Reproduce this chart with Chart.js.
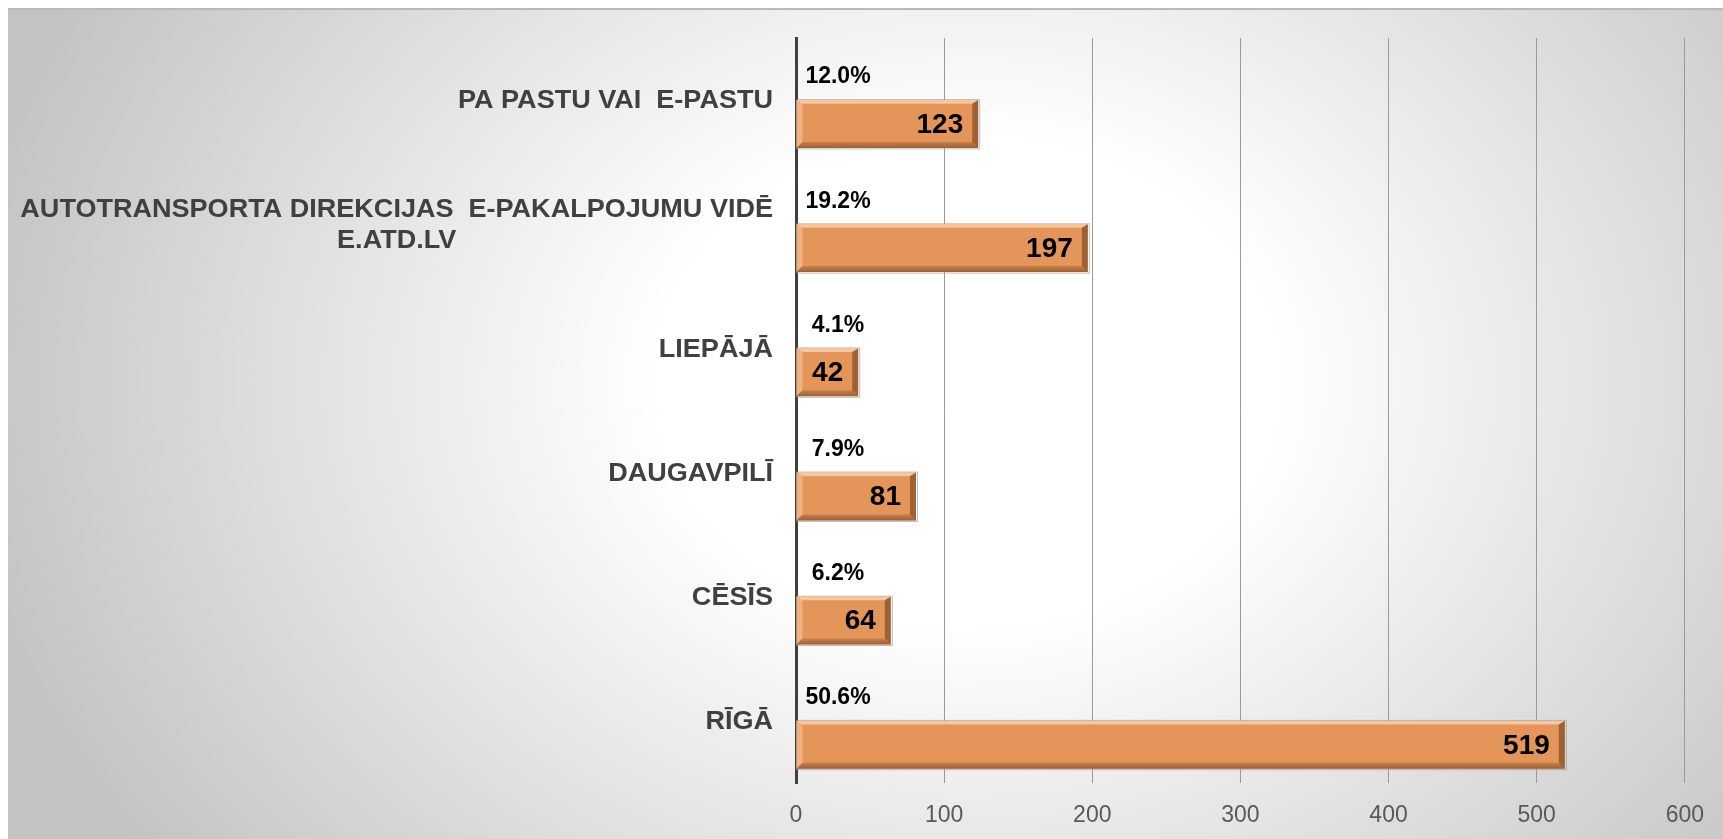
<!DOCTYPE html>
<html>
<head>
<meta charset="utf-8">
<script src="https://cdn.jsdelivr.net/npm/chart.js@4.4.0/dist/chart.umd.min.js"></script>
<style>
    html, body { margin: 0; padding: 0; background: #fff; overflow: hidden; }
    #frame {
        position: absolute; left: 8px; top: 8px; width: 1715px; height: 831px;
        box-sizing: border-box; border-top: 2px solid #b9b9b9;
        background: radial-gradient(ellipse 1020px 800px at 959px 372px, #ffffff 0%, #ffffff 30%, #c3c3c3 100%);
    }
    canvas { position: absolute; left: 0; top: 0; }
</style>
</head>
<body>
<div id="frame"></div>
<canvas id="chart" width="1723" height="839"></canvas>
<script>
// --- Data ---
const categories = [
    'PA PASTU VAI  E-PASTU',
    ['AUTOTRANSPORTA DIREKCIJAS  E-PAKALPOJUMU VIDĒ', 'E.ATD.LV'],
    'LIEPĀJĀ',
    'DAUGAVPILĪ',
    'CĒSĪS',
    'RĪGĀ'
];
const counts = [123, 197, 42, 81, 64, 519];
const percents = [12.0, 19.2, 4.1, 7.9, 6.2, 50.6];
const xTicks = [0, 100, 200, 300, 400, 500, 600];

const FONT = '"Liberation Sans", Arial, sans-serif';

// Bevelled look for the orange bars
const bevelPlugin = {
    id: 'bevel',
    afterDatasetDraw(chart, args) {
        if (args.index !== 1) return;
        const ctx = chart.ctx;
        const b = 6;
        args.meta.data.forEach(bar => {
            const p = bar.getProps(['x', 'y', 'base', 'height'], true);
            const l = p.base, r = p.x, t = p.y - p.height / 2, btm = p.y + p.height / 2;
            ctx.save();
            // soft outline
            ctx.strokeStyle = 'rgba(160,160,160,0.7)';
            ctx.lineWidth = 1;
            ctx.strokeRect(l + 0.5, t - 0.5, r - l + 1, btm - t + 1.5);
            // top highlight
            ctx.fillStyle = 'rgba(255,215,175,0.75)';
            ctx.beginPath();
            ctx.moveTo(l, t); ctx.lineTo(r, t); ctx.lineTo(r - b, t + b * 0.6); ctx.lineTo(l + b, t + b * 0.6);
            ctx.closePath(); ctx.fill();
            // left highlight
            ctx.fillStyle = 'rgba(255,210,170,0.45)';
            ctx.beginPath();
            ctx.moveTo(l, t); ctx.lineTo(l + b, t + b * 0.6); ctx.lineTo(l + b, btm - b); ctx.lineTo(l, btm);
            ctx.closePath(); ctx.fill();
            // bottom shade
            const g = ctx.createLinearGradient(0, btm - b - 2, 0, btm);
            g.addColorStop(0, 'rgba(120,70,30,0.15)');
            g.addColorStop(1, 'rgba(110,60,25,0.6)');
            ctx.fillStyle = g;
            ctx.beginPath();
            ctx.moveTo(l, btm); ctx.lineTo(r, btm); ctx.lineTo(r - b, btm - b); ctx.lineTo(l + b, btm - b);
            ctx.closePath(); ctx.fill();
            // right shade
            ctx.fillStyle = 'rgba(100,55,20,0.55)';
            ctx.beginPath();
            ctx.moveTo(r, t); ctx.lineTo(r, btm); ctx.lineTo(r - b, btm - b); ctx.lineTo(r - b, t + b * 0.6);
            ctx.closePath(); ctx.fill();
            ctx.restore();
        });
    }
};

// Category names, percentages and values
const labelPlugin = {
    id: 'labels',
    afterDatasetsDraw(chart) {
        const ctx = chart.ctx;
        const yScale = chart.scales.y;
        const area = chart.chartArea;
        ctx.save();

        // category labels (multi-line ones centred under each other), slightly wide
        const sx = 1.04;
        ctx.font = 'bold 26px ' + FONT;
        ctx.fillStyle = '#404040';
        ctx.textBaseline = 'middle';
        const right = area.left - 23;
        categories.forEach((cat, i) => {
            const cy = yScale.getPixelForValue(i) + 1;
            const lines = Array.isArray(cat) ? cat : [cat];
            const widest = Math.max(...lines.map(s => ctx.measureText(s).width));
            ctx.textAlign = lines.length > 1 ? 'center' : 'right';
            const lh = 31;
            lines.forEach((line, j) => {
                ctx.save();
                ctx.translate(right, cy + (j - (lines.length - 1) / 2) * lh);
                ctx.scale(sx, 1);
                ctx.fillText(line, lines.length > 1 ? -widest / 2 : 0, 0);
                ctx.restore();
            });
        });

        // percentages above bars
        ctx.font = 'bold 23px ' + FONT;
        ctx.fillStyle = '#000';
        ctx.textAlign = 'center';
        percents.forEach((v, i) => {
            const cy = yScale.getPixelForValue(i) - 23;
            ctx.fillText(v.toFixed(1) + '%', area.left + 42, cy);
        });

        // values inside bar ends
        ctx.font = 'bold 28px ' + FONT;
        ctx.textAlign = 'right';
        chart.getDatasetMeta(1).data.forEach((bar, i) => {
            const p = bar.getProps(['x', 'y'], true);
            ctx.fillText(String(counts[i]), p.x - 15, p.y + 1);
        });
        ctx.restore();
    }
};

const ctx = document.getElementById('chart').getContext('2d');
new Chart(ctx, {
    type: 'bar',
    data: {
        labels: categories,
        datasets: [
            {
                label: '%',
                data: percents,
                backgroundColor: 'rgba(0,0,0,0)',
                categoryPercentage: 0.77,
                barPercentage: 1.0
            },
            {
                label: 'Skaits',
                data: counts,
                backgroundColor: '#e4955a',
                borderWidth: 0,
                categoryPercentage: 0.77,
                barPercentage: 1.0
            }
        ]
    },
    options: {
        indexAxis: 'y',
        responsive: false,
        animation: false,
        devicePixelRatio: 1,
        layout: { padding: { top: 38, right: 36, left: 0, bottom: 0 } },
        plugins: {
            legend: { display: false },
            tooltip: { enabled: false },
            title: { display: false }
        },
        scales: {
            x: {
                min: 0,
                max: 600,
                afterBuildTicks: scale => { scale.ticks = xTicks.map(v => ({ value: v })); },
                afterFit: scale => { scale.height = 56; },
                grid: { color: '#9a9a9a', lineWidth: 1, drawTicks: false },
                border: { display: false },
                ticks: {
                    padding: 19,
                    color: '#595959',
                    font: { family: FONT, size: 23 }
                }
            },
            y: {
                afterFit: scale => { scale.width = 796; },
                grid: { display: false, drawTicks: false },
                border: { display: true, color: '#404040', width: 3 },
                ticks: { display: false }
            }
        }
    },
    plugins: [bevelPlugin, labelPlugin]
});
</script>
</body>
</html>
